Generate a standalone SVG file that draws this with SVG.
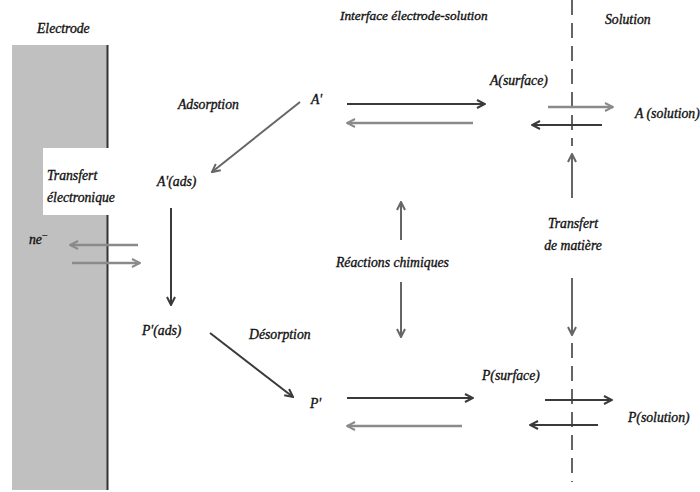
<svg xmlns="http://www.w3.org/2000/svg" width="700" height="492" viewBox="0 0 700 492">
<defs>
<style>
text{font-family:"Liberation Serif","Times New Roman",serif;font-style:italic;font-size:13.7px;fill:#111;stroke:#111;stroke-width:0.35}
.dk{stroke:#3a3a3a;stroke-width:2;fill:none}
.gr{stroke:#8a8a8a;stroke-width:2.5;fill:none}
.md{stroke:#666;stroke-width:2;fill:none}
.dash{stroke:#333;stroke-width:1.5;stroke-dasharray:15,8}
</style>
<marker id="hd" viewBox="0 0 10 10" refX="9" refY="5" markerWidth="10" markerHeight="10" markerUnits="userSpaceOnUse" orient="auto"><path d="M1,1 L9,5 L1,9" fill="none" stroke="#3a3a3a" stroke-width="2"/></marker>
<marker id="hg" viewBox="0 0 10 10" refX="9" refY="5" markerWidth="10" markerHeight="10" markerUnits="userSpaceOnUse" orient="auto"><path d="M1,1 L9,5 L1,9" fill="none" stroke="#8a8a8a" stroke-width="2"/></marker>
<marker id="hm" viewBox="0 0 10 10" refX="9" refY="5" markerWidth="10" markerHeight="10" markerUnits="userSpaceOnUse" orient="auto"><path d="M1,1 L9,5 L1,9" fill="none" stroke="#666" stroke-width="2"/></marker>
</defs>
<rect width="700" height="492" fill="#fff"/>
<g id="electrode">
<rect x="12" y="45" width="95" height="445" fill="#c0c0c0"/>
<line x1="107.5" y1="45" x2="107.5" y2="490" stroke="#333" stroke-width="2"/>
<rect x="43" y="148" width="77" height="67" fill="#fff"/>
<text x="37" y="33">Electrode</text>
</g>
<g id="boundary">
<line class="dash" x1="572" y1="0" x2="572" y2="146"/>
<line class="dash" x1="572" y1="343" x2="572" y2="482"/>
</g>
<g id="headers">
<text x="340" y="20" style="font-size:13.3px">Interface électrode-solution</text>
<text x="605" y="24">Solution</text>
</g>
<g id="A-prime"><text x="311" y="104">A'</text></g>
<g id="A-surface"><text x="490" y="85">A(surface)</text></g>
<g id="A-solution"><text x="635" y="118">A (solution)</text></g>
<g id="A-ads"><text x="157" y="186">A'(ads)</text></g>
<g id="P-ads"><text x="142" y="335">P'(ads)</text></g>
<g id="P-prime"><text x="310" y="408">P'</text></g>
<g id="P-surface"><text x="482" y="380">P(surface)</text></g>
<g id="P-solution"><text x="628" y="422">P(solution)</text></g>
<g id="ne"><text x="29" y="244">ne<tspan dy="-5" font-size="10" font-style="normal">−</tspan></text></g>
<g id="labels">
<text x="178" y="109">Adsorption</text>
<text x="47" y="180">Transfert</text>
<text x="47" y="202">électronique</text>
<text x="249" y="339">Désorption</text>
<text x="336" y="267">Réactions chimiques</text>
<text x="573" y="228" text-anchor="middle">Transfert</text>
<text x="573" y="250" text-anchor="middle">de matière</text>
</g>
<g id="connectors">
<line class="md" x1="300" y1="102" x2="212" y2="172" marker-end="url(#hm)"/>
<line class="dk" x1="171" y1="208" x2="171" y2="305" marker-end="url(#hd)"/>
<line class="dk" x1="210" y1="333" x2="293" y2="397" marker-end="url(#hd)"/>
<line class="gr" x1="138" y1="245" x2="70" y2="245" marker-end="url(#hg)"/>
<line class="gr" x1="72" y1="263" x2="140" y2="263" marker-end="url(#hg)"/>
<line class="dk" x1="347" y1="104" x2="485" y2="104" marker-end="url(#hd)"/>
<line class="gr" x1="473" y1="123" x2="347" y2="123" marker-end="url(#hg)"/>
<line class="gr" x1="548" y1="107" x2="613" y2="107" marker-end="url(#hg)"/>
<line class="dk" x1="602" y1="125" x2="532" y2="125" marker-end="url(#hd)"/>
<line class="dk" x1="347" y1="398" x2="473" y2="398" marker-end="url(#hd)"/>
<line class="gr" x1="462" y1="426" x2="347" y2="426" marker-end="url(#hg)"/>
<line class="dk" x1="545" y1="400" x2="612" y2="400" marker-end="url(#hd)"/>
<line class="dk" x1="598" y1="425" x2="530" y2="425" marker-end="url(#hd)"/>
<line class="md" x1="401" y1="240" x2="401" y2="202" marker-end="url(#hm)"/>
<line class="md" x1="401" y1="282" x2="401" y2="337" marker-end="url(#hm)"/>
<line class="md" x1="572" y1="198" x2="572" y2="154" marker-end="url(#hm)"/>
<line class="md" x1="572" y1="278" x2="572" y2="335" marker-end="url(#hm)"/>
</g>
</svg>
